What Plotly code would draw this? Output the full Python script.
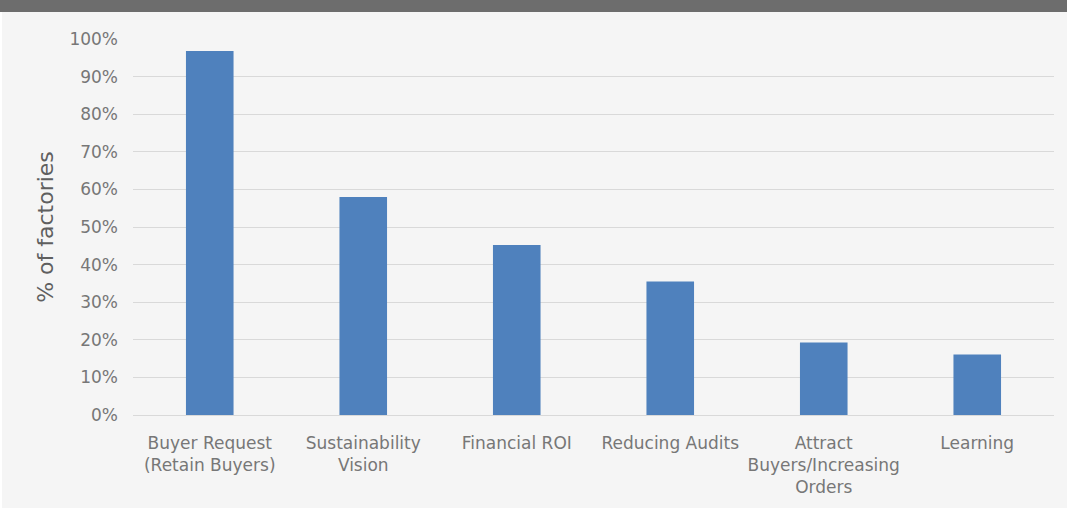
import plotly.graph_objects as go

categories = ["Buyer Request<br>(Retain Buyers)", "Sustainability<br>Vision", "Financial ROI",
              "Reducing Audits", "Attract<br>Buyers/Increasing<br>Orders", "Learning"]
values = [0.968, 0.58, 0.452, 0.355, 0.193, 0.161]
y_ticks = [i / 10 for i in range(11)]
y_labels = [f"{i*10}%" for i in range(11)]

font_family = "'DejaVu Sans', sans-serif"

fig = go.Figure(go.Bar(x=categories, y=values, marker_color="#4f81bd",
                       marker_line_width=0))

fig.update_layout(
    width=1067, height=508,
    margin=dict(l=133, r=13, t=39, b=93),
    paper_bgcolor="#f5f5f5", plot_bgcolor="#f5f5f5",
    bargap=0.69,
    showlegend=False,
    font=dict(family=font_family, color="#777777", size=17),
    shapes=[
        dict(type="rect", xref="paper", yref="paper", x0=-0.2, x1=1.1,
             y0=(415 - 12) / 376, y1=1.2, fillcolor="#6d6d6d", line_width=0, layer="above"),
        dict(type="rect", xref="paper", yref="paper", x0=-0.2, x1=-133 / 921 + 2 / 921,
             y0=-0.3, y1=(415 - 12) / 376, fillcolor="#ffffff", line_width=0, layer="above"),
    ],
)
fig.update_yaxes(range=[0, 1.0], tickvals=y_ticks, ticktext=y_labels,
                 showgrid=True, gridcolor="#d9d9d9", gridwidth=1,
                 zeroline=True, zerolinecolor="#d9d9d9", zerolinewidth=1,
                 ticks="", ticklabelstandoff=14,
                 tickfont=dict(size=17, color="#777777"),
                 title=dict(text="% of factories", standoff=9,
                            font=dict(size=22, color="#5f5f5f")))
fig.update_xaxes(showgrid=False, ticks="", showline=False, ticklabelstandoff=16,
                 tickfont=dict(size=17, color="#777777"))

fig.write_html("out.html", config={"displayModeBar": False},
               post_script="document.body.style.margin='0px';")
